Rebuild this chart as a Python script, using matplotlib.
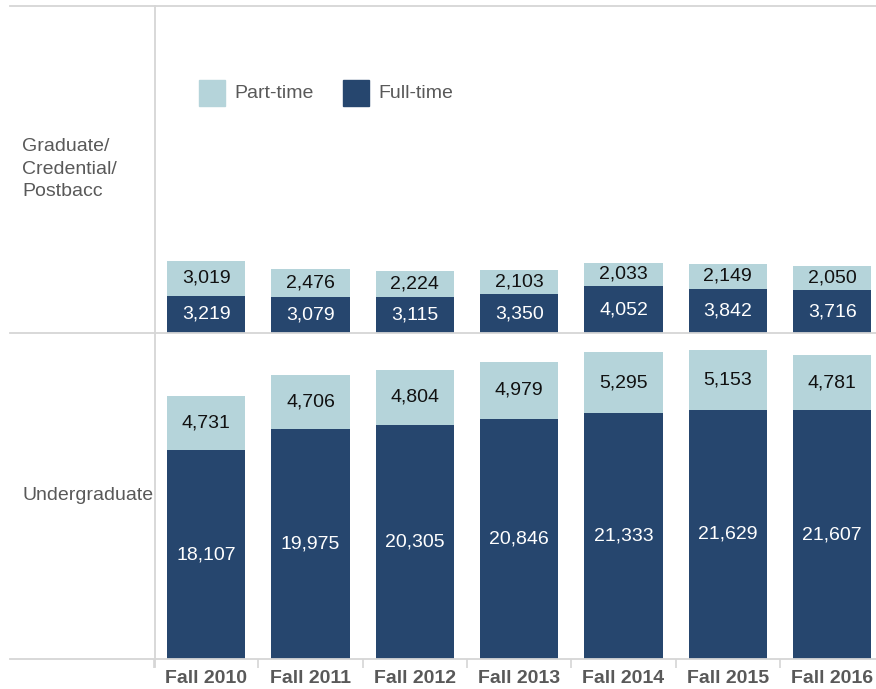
import matplotlib
matplotlib.use("Agg")
import matplotlib.pyplot as plt
from matplotlib.lines import Line2D
from matplotlib.patches import Rectangle
import numpy as np

plt.rcParams['font.family'] = ['Liberation Sans', 'DejaVu Sans']

# data
terms = ["Fall 2010", "Fall 2011", "Fall 2012", "Fall 2013", "Fall 2014", "Fall 2015", "Fall 2016"]
grad_full = [3219, 3079, 3115, 3350, 4052, 3842, 3716]
grad_part = [3019, 2476, 2224, 2103, 2033, 2149, 2050]
ug_full = [18107, 19975, 20305, 20846, 21333, 21629, 21607]
ug_part = [4731, 4706, 4804, 4979, 5295, 5153, 4781]
row_names = ["Graduate/\nCredential/\nPostbacc", "Undergraduate"]

DARK = "#26466E"
LIGHT = "#B5D4DA"
GRID = "#d6d6d6"
TXT = "#595959"

W, H = 876, 689
fig = plt.figure(figsize=(W / 100, H / 100), dpi=100)


def fx(px):
    return px / W


def fy(py):
    return 1 - py / H


x0 = 154
slot = 104.33
ymax = 28300
ax_top = fig.add_axes([fx(x0), fy(333), fx(7 * slot), (333 - 6) / H])
ax_bot = fig.add_axes([fx(x0), fy(659), fx(7 * slot), (659 - 333) / H])

x = np.arange(len(terms))
for ax, full, part in [(ax_top, grad_full, grad_part), (ax_bot, ug_full, ug_part)]:
    ax.bar(x, full, width=0.75, color=DARK)
    ax.bar(x, part, width=0.75, bottom=full, color=LIGHT)
    for i in range(len(terms)):
        ax.text(x[i], full[i] / 2, f"{full[i]:,}", ha='center', va='center',
                color='white', fontsize=14)
        ax.text(x[i], full[i] + part[i] / 2, f"{part[i]:,}", ha='center', va='center',
                color='#111111', fontsize=14)
    ax.set_xlim(-0.5, 6.5)
    ax.set_ylim(0, ymax)
    for s in ax.spines.values():
        s.set_visible(False)
    ax.set_yticks([])

ax_top.set_xticks([])
ax_bot.set_xticks(x)
ax_bot.set_xticklabels(terms, fontweight='bold', fontsize=14, color=TXT)
ax_bot.set_xticks(np.arange(-0.5, 7, 1), minor=True)
ax_bot.tick_params(axis='x', which='major', length=0, pad=8)
ax_bot.tick_params(axis='x', which='minor', length=6.5, width=1.2, color=GRID)

# frame lines
for y in [6, 333, 659]:
    fig.add_artist(Line2D([fx(10), 1], [fy(y), fy(y)], color=GRID, lw=1.3))
fig.add_artist(Line2D([fx(155), fx(155)], [fy(6), fy(667)], color=GRID, lw=1.3))

# row headers
fig.text(fx(22), fy(169), row_names[0], ha='left', va='center', fontsize=14,
         color=TXT, linespacing=1.4)
fig.text(fx(22), fy(496), row_names[1], ha='left', va='center', fontsize=14, color=TXT)

# legend
for px, col, lab in [(199, LIGHT, "Part-time"), (343, DARK, "Full-time")]:
    fig.add_artist(Rectangle((fx(px), fy(106)), fx(26), 26 / H, color=col,
                             transform=fig.transFigure))
    fig.text(fx(px + 35), fy(93), lab, ha='left', va='center', fontsize=14, color=TXT)

fig.savefig("out.png", dpi=100)
